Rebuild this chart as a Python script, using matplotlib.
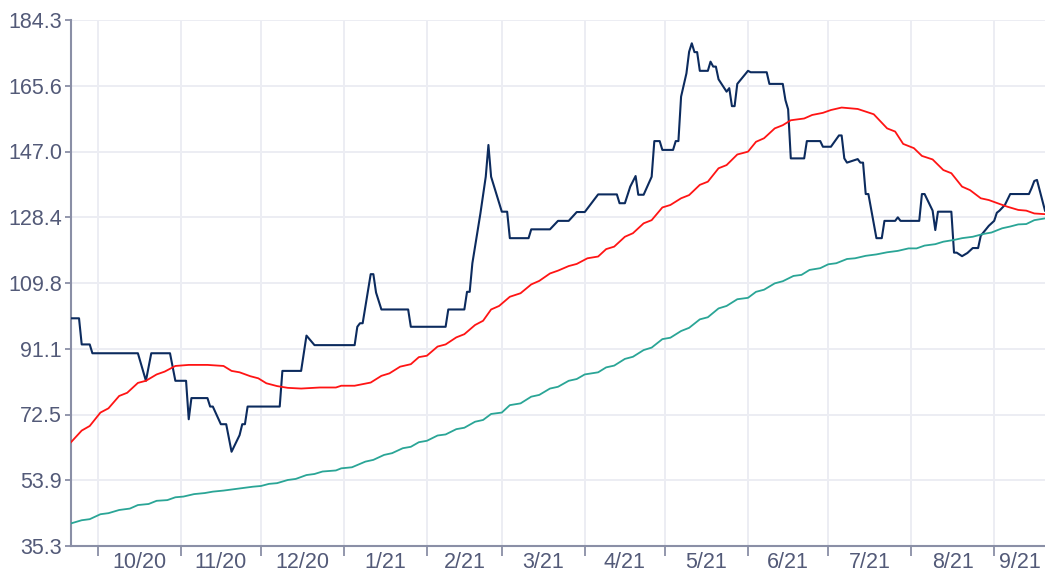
import pandas as pd
import numpy as np
import matplotlib.pyplot as plt

# price series (vertices)
price_dates = [
    '2020-09-21', '2020-09-24', '2020-09-25', '2020-09-28', '2020-09-29', '2020-10-16',
    '2020-10-19', '2020-10-21', '2020-10-28', '2020-10-30', '2020-11-03', '2020-11-04',
    '2020-11-05', '2020-11-11', '2020-11-12', '2020-11-13', '2020-11-16', '2020-11-18',
    '2020-11-20', '2020-11-23', '2020-11-24', '2020-11-25', '2020-11-26', '2020-12-08',
    '2020-12-09', '2020-12-16', '2020-12-18', '2020-12-21', '2021-01-05', '2021-01-06',
    '2021-01-07', '2021-01-08', '2021-01-11', '2021-01-12', '2021-01-13', '2021-01-15',
    '2021-01-25', '2021-01-26', '2021-02-08', '2021-02-09', '2021-02-15', '2021-02-16',
    '2021-02-17', '2021-02-18', '2021-02-21', '2021-02-23', '2021-02-24', '2021-02-25',
    '2021-03-01', '2021-03-03', '2021-03-04', '2021-03-11', '2021-03-12', '2021-03-19',
    '2021-03-22', '2021-03-26', '2021-03-29', '2021-04-01', '2021-04-06', '2021-04-13',
    '2021-04-14', '2021-04-16', '2021-04-18', '2021-04-20', '2021-04-21', '2021-04-23',
    '2021-04-26', '2021-04-27', '2021-04-29', '2021-04-30', '2021-05-04', '2021-05-05',
    '2021-05-06', '2021-05-07', '2021-05-09', '2021-05-10', '2021-05-11', '2021-05-12',
    '2021-05-13', '2021-05-14', '2021-05-17', '2021-05-18', '2021-05-19', '2021-05-20',
    '2021-05-21', '2021-05-24', '2021-05-25', '2021-05-26', '2021-05-27', '2021-05-28',
    '2021-06-01', '2021-06-02', '2021-06-08', '2021-06-09', '2021-06-14', '2021-06-15',
    '2021-06-16', '2021-06-17', '2021-06-22', '2021-06-23', '2021-06-28', '2021-06-29',
    '2021-07-02', '2021-07-05', '2021-07-06', '2021-07-07', '2021-07-08', '2021-07-12',
    '2021-07-13', '2021-07-14', '2021-07-15', '2021-07-16', '2021-07-19', '2021-07-21',
    '2021-07-22', '2021-07-26', '2021-07-27', '2021-07-28', '2021-08-04', '2021-08-05',
    '2021-08-06', '2021-08-09', '2021-08-10', '2021-08-11', '2021-08-16', '2021-08-17',
    '2021-08-18', '2021-08-20', '2021-08-22', '2021-08-24', '2021-08-26', '2021-08-27',
    '2021-08-30', '2021-09-01', '2021-09-02', '2021-09-03', '2021-09-05', '2021-09-07',
    '2021-09-14', '2021-09-15', '2021-09-16', '2021-09-17', '2021-09-20',
]
price = [
    99.8, 99.8, 92.4, 92.4, 89.9, 89.9,
    82.1, 89.9, 89.9, 82.1, 82.1, 71.2,
    77.2, 77.2, 74.8, 74.8, 69.8, 69.8,
    62.0, 66.7, 69.8, 69.8, 74.8, 74.8,
    84.9, 84.9, 94.9, 92.2, 92.2, 97.4,
    98.4, 98.4, 112.3, 112.3, 107.1, 102.3,
    102.3, 97.4, 97.4, 102.3, 102.3, 107.3,
    107.3, 115.4, 129.5, 139.9, 148.9, 139.9,
    130.0, 130.0, 122.5, 122.5, 125.0, 125.0,
    127.4, 127.4, 129.9, 129.9, 134.9, 134.9,
    132.4, 132.4, 137.1, 140.1, 134.8, 134.8,
    139.9, 150.0, 150.0, 147.5, 147.5, 150.0,
    150.0, 162.6, 169.2, 175.3, 177.7, 175.2,
    175.2, 169.9, 169.9, 172.5, 171.1, 171.1,
    167.5, 164.0, 165.0, 159.9, 159.9, 166.2,
    169.9, 169.5, 169.5, 166.2, 166.2, 161.6,
    159.0, 145.1, 145.1, 150.0, 150.0, 148.4,
    148.4, 151.6, 151.6, 145.1, 143.9, 144.9,
    143.9, 143.9, 135.0, 135.0, 122.5, 122.5,
    127.4, 127.4, 128.4, 127.4, 127.4, 135.0,
    135.0, 130.3, 124.8, 130.0, 130.0, 118.4,
    118.4, 117.4, 118.3, 119.7, 119.7, 123.2,
    126.0, 127.4, 129.7, 130.3, 131.9, 135.0,
    135.0, 136.7, 138.7, 139.0, 130.3,
]

# short moving average (red)
ma_short_dates = [
    '2020-09-21', '2020-09-25', '2020-09-28', '2020-10-02', '2020-10-05', '2020-10-09',
    '2020-10-12', '2020-10-16', '2020-10-19', '2020-10-23', '2020-10-26', '2020-10-30',
    '2020-11-04', '2020-11-11', '2020-11-17', '2020-11-20', '2020-11-23', '2020-11-27',
    '2020-11-30', '2020-12-03', '2020-12-07', '2020-12-11', '2020-12-16', '2020-12-23',
    '2020-12-29', '2020-12-31', '2021-01-05', '2021-01-11', '2021-01-15', '2021-01-18',
    '2021-01-22', '2021-01-26', '2021-01-29', '2021-02-01', '2021-02-05', '2021-02-08',
    '2021-02-12', '2021-02-15', '2021-02-19', '2021-02-22', '2021-02-25', '2021-02-28',
    '2021-03-04', '2021-03-08', '2021-03-12', '2021-03-15', '2021-03-19', '2021-03-22',
    '2021-03-26', '2021-03-29', '2021-04-02', '2021-04-06', '2021-04-09', '2021-04-12',
    '2021-04-16', '2021-04-19', '2021-04-23', '2021-04-26', '2021-04-30', '2021-05-03',
    '2021-05-07', '2021-05-10', '2021-05-14', '2021-05-17', '2021-05-21', '2021-05-24',
    '2021-05-28', '2021-06-01', '2021-06-04', '2021-06-07', '2021-06-11', '2021-06-14',
    '2021-06-17', '2021-06-22', '2021-06-25', '2021-06-29', '2021-07-02', '2021-07-06',
    '2021-07-09', '2021-07-12', '2021-07-18', '2021-07-20', '2021-07-23', '2021-07-26',
    '2021-07-29', '2021-08-02', '2021-08-05', '2021-08-09', '2021-08-13', '2021-08-16',
    '2021-08-20', '2021-08-23', '2021-08-27', '2021-08-30', '2021-09-03', '2021-09-06',
    '2021-09-10', '2021-09-13', '2021-09-16', '2021-09-20',
]
ma_short = [
    64.7, 68.0, 69.3, 73.1, 74.3, 77.8,
    78.7, 81.5, 82.1, 83.9, 84.7, 86.3,
    86.6, 86.6, 86.3, 84.9, 84.5, 83.4,
    82.8, 81.4, 80.6, 80.1, 79.9, 80.2,
    80.2, 80.7, 80.7, 81.6, 83.5, 84.2,
    86.1, 86.8, 88.8, 89.2, 91.8, 92.4,
    94.4, 95.3, 97.9, 99.1, 102.3, 103.3,
    105.9, 106.9, 109.4, 110.4, 112.5, 113.3,
    114.6, 115.2, 116.8, 117.3, 119.4, 120.1,
    122.9, 123.9, 126.7, 127.6, 131.2, 131.9,
    133.8, 134.7, 137.6, 138.5, 142.3, 143.2,
    146.2, 147.0, 149.8, 150.8, 153.6, 154.5,
    155.9, 156.4, 157.4, 158.0, 158.8, 159.5,
    159.3, 159.1, 157.6, 156.0, 153.6, 152.7,
    149.2, 148.0, 145.8, 144.8, 141.8, 140.9,
    137.1, 136.1, 133.8, 133.3, 132.2, 131.4,
    130.5, 130.3, 129.5, 129.3,
]

# long moving average (teal)
ma_long_dates = [
    '2020-09-21', '2020-09-25', '2020-09-28', '2020-10-02', '2020-10-05', '2020-10-09',
    '2020-10-13', '2020-10-16', '2020-10-20', '2020-10-23', '2020-10-27', '2020-10-30',
    '2020-11-02', '2020-11-06', '2020-11-10', '2020-11-13', '2020-11-17', '2020-11-21',
    '2020-11-24', '2020-11-28', '2020-12-01', '2020-12-04', '2020-12-07', '2020-12-11',
    '2020-12-14', '2020-12-18', '2020-12-21', '2020-12-24', '2020-12-29', '2020-12-31',
    '2021-01-04', '2021-01-09', '2021-01-12', '2021-01-16', '2021-01-19', '2021-01-23',
    '2021-01-26', '2021-01-29', '2021-02-01', '2021-02-05', '2021-02-08', '2021-02-12',
    '2021-02-15', '2021-02-19', '2021-02-22', '2021-02-25', '2021-03-01', '2021-03-04',
    '2021-03-08', '2021-03-12', '2021-03-15', '2021-03-19', '2021-03-22', '2021-03-26',
    '2021-03-29', '2021-04-01', '2021-04-06', '2021-04-09', '2021-04-12', '2021-04-16',
    '2021-04-19', '2021-04-23', '2021-04-26', '2021-04-30', '2021-05-03', '2021-05-07',
    '2021-05-10', '2021-05-14', '2021-05-17', '2021-05-21', '2021-05-24', '2021-05-28',
    '2021-06-01', '2021-06-04', '2021-06-07', '2021-06-11', '2021-06-14', '2021-06-18',
    '2021-06-21', '2021-06-24', '2021-06-28', '2021-07-01', '2021-07-04', '2021-07-08',
    '2021-07-11', '2021-07-15', '2021-07-19', '2021-07-23', '2021-07-27', '2021-07-31',
    '2021-08-03', '2021-08-06', '2021-08-10', '2021-08-13', '2021-08-17', '2021-08-20',
    '2021-08-24', '2021-08-28', '2021-08-31', '2021-09-04', '2021-09-07', '2021-09-10',
    '2021-09-13', '2021-09-16', '2021-09-20',
]
ma_long = [
    41.7, 42.6, 42.9, 44.3, 44.6, 45.5,
    45.9, 46.9, 47.2, 48.1, 48.3, 49.1,
    49.3, 50.0, 50.3, 50.7, 51.0, 51.4,
    51.7, 52.1, 52.3, 52.9, 53.1, 54.0,
    54.3, 55.4, 55.7, 56.4, 56.7, 57.3,
    57.6, 59.2, 59.7, 61.1, 61.6, 63.0,
    63.4, 64.7, 65.1, 66.6, 66.9, 68.4,
    68.8, 70.5, 71.0, 72.7, 73.1, 75.2,
    75.7, 77.6, 78.1, 79.9, 80.4, 82.1,
    82.6, 83.9, 84.5, 85.9, 86.4, 88.3,
    88.9, 90.8, 91.5, 93.9, 94.3, 96.2,
    97.1, 99.5, 100.1, 102.6, 103.3, 105.2,
    105.6, 107.3, 107.9, 109.7, 110.3, 111.8,
    112.1, 113.5, 114.0, 115.1, 115.4, 116.6,
    116.8, 117.5, 117.9, 118.5, 118.9, 119.6,
    119.6, 120.4, 120.8, 121.5, 122.0, 122.5,
    122.9, 123.7, 124.1, 125.3, 125.8, 126.4,
    126.5, 127.6, 128.1,
]

y_tick_labels = ['35.3', '53.9', '72.5', '91.1', '109.8', '128.4', '147.0', '165.6', '184.3']
month_labels = ['10/20', '11/20', '12/20', '1/21', '2/21', '3/21',
                '4/21', '5/21', '6/21', '7/21', '8/21', '9/21']

plt.rcParams['font.family'] = ['Liberation Sans', 'DejaVu Sans']

text_color = '#535a78'
axis_color = '#8a8fa6'
grid_color = '#ecedf3'

fig = plt.figure(figsize=(10.45, 5.76), dpi=100)
ax = fig.add_axes([71 / 1045, 1 - 546 / 576, 1 - 71 / 1045, 526 / 576])

ax.plot(pd.to_datetime(price_dates), price, color='#0c2b5e', lw=1.5, zorder=3)
ax.plot(pd.to_datetime(ma_short_dates), ma_short, color='#ff1414', lw=1.3, zorder=4)
ax.plot(pd.to_datetime(ma_long_dates), ma_long, color='#2aa596', lw=1.3, zorder=4)

x0 = pd.Timestamp(price_dates[0])
x1 = pd.Timestamp(price_dates[-1])
ax.set_xlim(x0, x1)

y_ticks = np.linspace(float(y_tick_labels[0]), float(y_tick_labels[-1]), len(y_tick_labels))
ax.set_ylim(y_ticks[0], y_ticks[-1])
ax.set_yticks(y_ticks)
ax.set_yticklabels(y_tick_labels)

# month boundaries as major ticks, labels centred on the visible part of each month
month_starts = pd.date_range('2020-10-01', periods=len(month_labels), freq='MS')
label_pos = []
for m in month_starts:
    nxt = m + pd.offsets.MonthBegin(1)
    a = max(m, x0)
    b = min(nxt, x1)
    label_pos.append(a + (b - a) / 2)
ax.set_xticks(month_starts)
ax.set_xticklabels([])
ax.set_xticks(label_pos, minor=True)
ax.set_xticklabels(month_labels, minor=True)

ax.grid(True, which='major', color=grid_color, lw=1.4, zorder=0)
ax.set_axisbelow(True)

for s in ['top', 'right']:
    ax.spines[s].set_visible(False)
for s in ['left', 'bottom']:
    ax.spines[s].set_color(axis_color)
    ax.spines[s].set_linewidth(1.5)

ax.tick_params(axis='y', which='major', length=4.5, width=1.3, color=axis_color,
               labelsize=15.5, labelcolor=text_color, pad=2)
ax.tick_params(axis='x', which='major', length=7, width=1.3, color=axis_color)
ax.tick_params(axis='x', which='minor', length=0, labelsize=15.5, labelcolor=text_color, pad=4)

fig.savefig('out.png', dpi=100)
